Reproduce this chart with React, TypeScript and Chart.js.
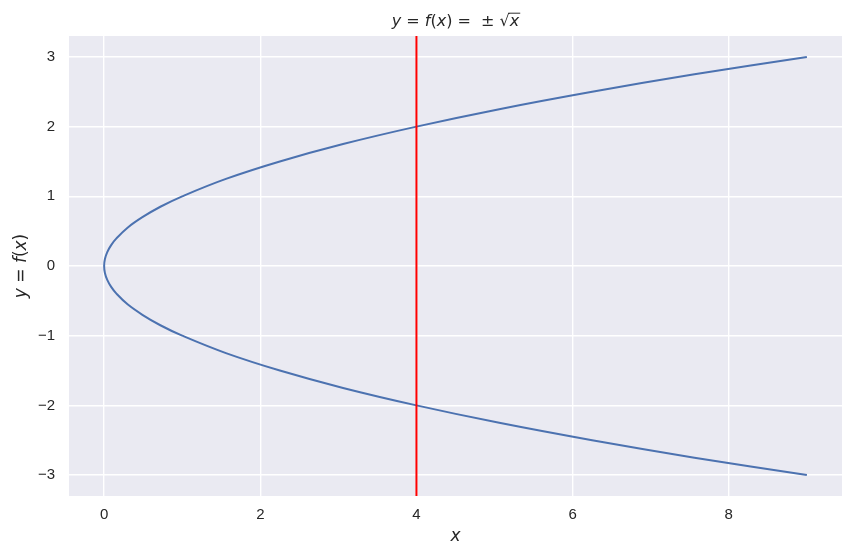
import React, { useEffect, useRef } from "react";
import { Chart, registerables } from "chart.js";

Chart.register(...registerables);

// Curve points (upper branch then lower branch)
const curveX = [9, 7.56, 6.25, 5.06, 4, 3.06, 2.25, 1.56, 1, 0.72, 0.49, 0.3, 0.16, 0.09, 0.04, 0.01, 0,
  0.01, 0.04, 0.09, 0.16, 0.3, 0.49, 0.72, 1, 1.56, 2.25, 3.06, 4, 5.06, 6.25, 7.56, 9];
const curveY = [3, 2.75, 2.5, 2.25, 2, 1.75, 1.5, 1.25, 1, 0.85, 0.7, 0.55, 0.4, 0.3, 0.2, 0.1, 0,
  -0.1, -0.2, -0.3, -0.4, -0.55, -0.7, -0.85, -1, -1.25, -1.5, -1.75, -2, -2.25, -2.5, -2.75, -3];
const redLineX = 4;
const xTicks = [0, 2, 4, 6, 8];
const yTicks = [-3, -2, -1, 0, 1, 2, 3];
const xRange = [-0.45, 9.45];
const yRange = [-3.3, 3.3];

const MATH_FONT = '"DejaVu Sans"';

type Seg = [string, boolean, boolean?]; // text, italic, overline-root

function drawRich(ctx: CanvasRenderingContext2D, segs: Seg[], cx: number, baseY: number, size: number) {
  const fontOf = (it: boolean) => `${it ? "oblique " : ""}${size}px ${MATH_FONT}`;
  let total = 0;
  const widths: number[] = [];
  for (const [t, it] of segs) {
    ctx.font = fontOf(it);
    const w = ctx.measureText(t).width;
    widths.push(w);
    total += w;
  }
  let x = cx - total / 2;
  ctx.textBaseline = "alphabetic";
  ctx.textAlign = "left";
  let rootStart: number | null = null;
  segs.forEach(([t, it, root], i) => {
    ctx.font = fontOf(it);
    ctx.fillText(t, x, baseY);
    if (t === "√") rootStart = x + widths[i] * 0.85;
    x += widths[i];
    if (root && rootStart !== null) {
      ctx.save();
      ctx.strokeStyle = ctx.fillStyle as string;
      ctx.lineWidth = size * 0.06;
      ctx.beginPath();
      const yy = baseY - size * 0.80;
      ctx.moveTo(rootStart, yy);
      ctx.lineTo(x + 1, yy);
      ctx.stroke();
      ctx.restore();
    }
  });
}

const decorPlugin = {
  id: "decor",
  beforeDraw(chart: any) {
    const { ctx, chartArea } = chart;
    ctx.save();
    ctx.fillStyle = "#EAEAF2";
    ctx.fillRect(chartArea.left, chartArea.top, chartArea.right - chartArea.left, chartArea.bottom - chartArea.top);
    ctx.restore();
  },
  afterDraw(chart: any) {
    const { ctx, chartArea } = chart;
    const cx = (chartArea.left + chartArea.right) / 2;
    const cy = (chartArea.top + chartArea.bottom) / 2;
    ctx.save();
    ctx.fillStyle = "#262626";
    // title
    drawRich(ctx, [["y", true], [" = ", false], ["f", true], ["(", false], ["x", true], [")", false], [" =  ", false], ["±", false], [" ", false], ["√", false], ["x", true, true]], cx, 26, 16);
    // x label
    drawRich(ctx, [["x", true]], cx, 541, 17);
    // y label
    ctx.save();
    ctx.translate(26, cy);
    ctx.rotate(-Math.PI / 2);
    drawRich(ctx, [["y", true], [" = ", false], ["f", true], ["(", false], ["x", true], [")", false]], 0, 0, 17);
    ctx.restore();
    ctx.restore();
  },
};

const fmt = (v: number) => (v < 0 ? "\u2212" + Math.abs(v) : String(v));

export default function App() {
  const ref = useRef<HTMLCanvasElement>(null);
  useEffect(() => {
    if (!ref.current) return;
    const chart = new Chart(ref.current, {
      type: "scatter",
      data: {
        datasets: [
          {
            data: [{ x: redLineX, y: yRange[0] }, { x: redLineX, y: yRange[1] }],
            showLine: true,
            borderColor: "#FF0000",
            borderWidth: 2,
            pointRadius: 0,
            order: 0,
          },
          {
            data: curveX.map((x, i) => ({ x, y: curveY[i] })),
            showLine: true,
            borderColor: "#4C72B0",
            borderWidth: 2,
            pointRadius: 0,
            tension: 0.4,
            order: 1,
          },
        ],
      },
      options: {
        animation: false,
        responsive: false,
        layout: { padding: { top: 36, right: 11, left: 0, bottom: 0 } },
        plugins: { legend: { display: false }, tooltip: { enabled: false }, title: { display: false } },
        scales: {
          x: {
            type: "linear",
            min: xRange[0],
            max: xRange[1],
            afterBuildTicks: (s: any) => { s.ticks = xTicks.map((v) => ({ value: v })); },
            afterFit: (s: any) => { s.height = 59; },
            grid: { color: "#FFFFFF", lineWidth: 1.4, drawTicks: false },
            border: { display: false },
            ticks: { padding: 10, color: "#262626", font: { family: '"Liberation Sans", Arial', size: 15 }, callback: (v: any) => fmt(Number(v)), maxRotation: 0 },
          },
          y: {
            type: "linear",
            min: yRange[0],
            max: yRange[1],
            afterBuildTicks: (s: any) => { s.ticks = yTicks.map((v) => ({ value: v })); },
            afterFit: (s: any) => { s.width = 69; },
            grid: { color: "#FFFFFF", lineWidth: 1.4, drawTicks: false },
            border: { display: false },
            ticks: { padding: 14, color: "#262626", font: { family: '"Liberation Sans", Arial', size: 15 }, callback: (v: any) => fmt(Number(v)) },
          },
        },
      },
      plugins: [decorPlugin],
    } as any);
    return () => chart.destroy();
  }, []);
  return (
    <div style={{ position: "fixed", left: 0, top: 0, width: 853, height: 555, background: "#fff" }}>
      <canvas ref={ref} width={853} height={555} style={{ display: "block" }} />
    </div>
  );
}
